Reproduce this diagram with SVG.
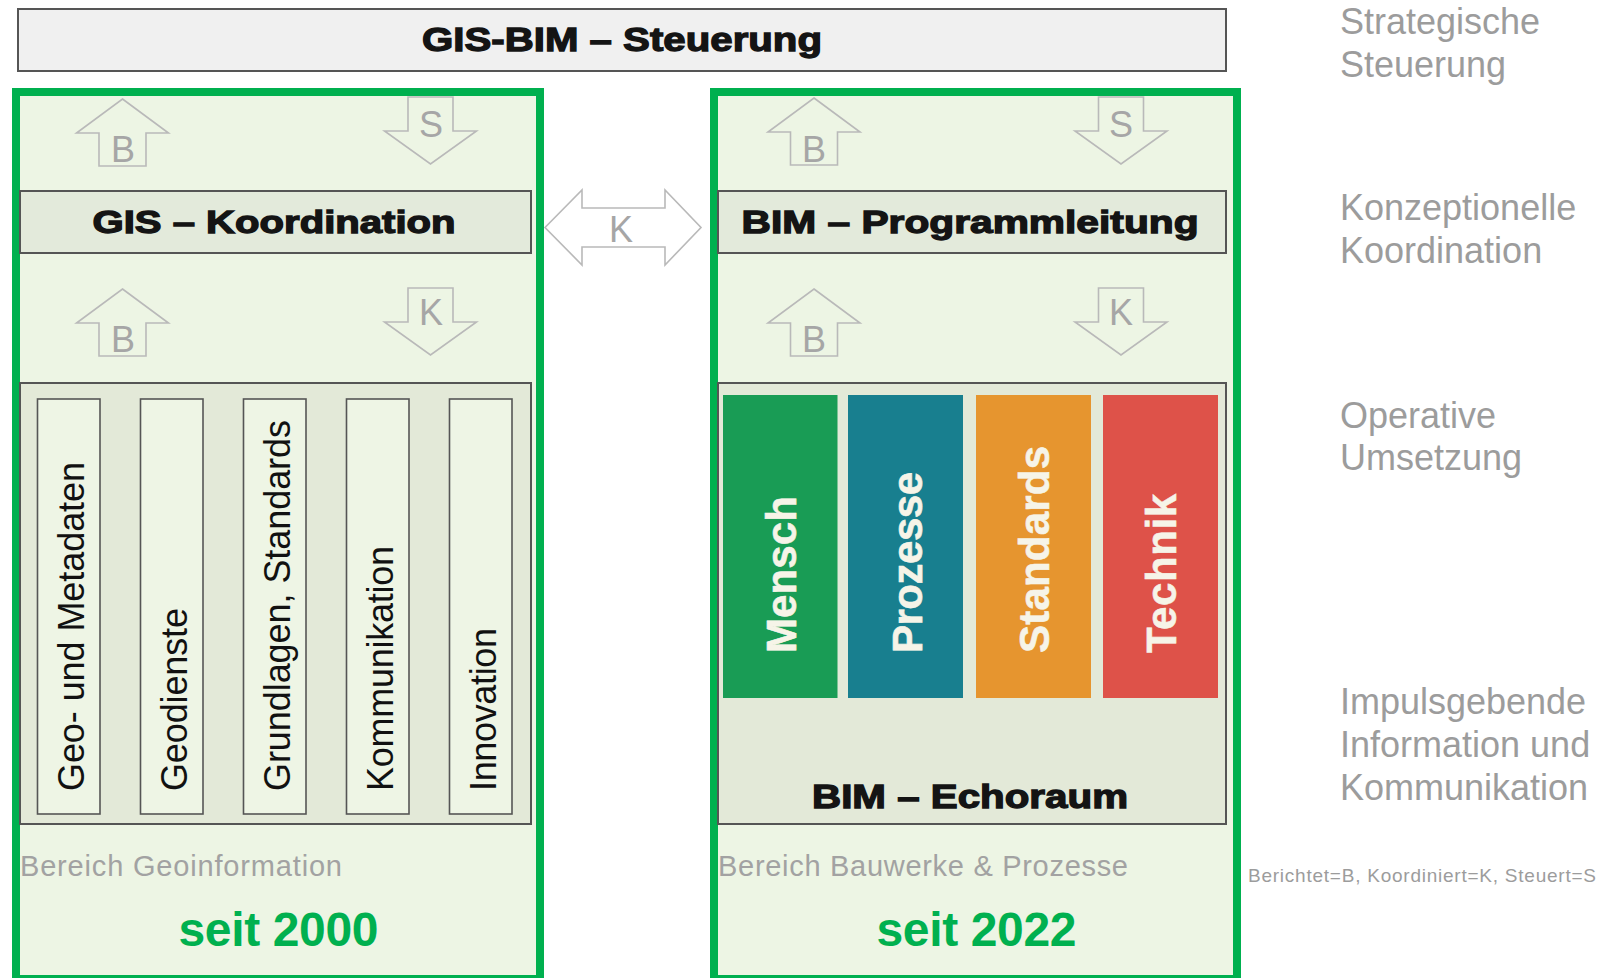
<svg xmlns="http://www.w3.org/2000/svg" xmlns:xlink="http://www.w3.org/1999/xlink" width="1601" height="978" viewBox="0 0 1601 978">
<style>
.heavy{font-family:"Liberation Sans",Arial,sans-serif;font-weight:bold;fill:#141414;stroke:#141414;stroke-width:1.3;text-anchor:middle}
.bar{fill:#e3eadb;stroke:#555;stroke-width:2}
.area{fill:#edf5e4;stroke:#00b04f;stroke-width:8}
.inner{fill:#e3e9d8;stroke:#555;stroke-width:2}
.col{fill:#eef5e5;stroke:#555;stroke-width:1.6}
.coltxt{font-family:"Liberation Sans",Arial,sans-serif;font-size:36px;fill:#111}
.ctxt{font-family:"Liberation Sans",Arial,sans-serif;font-size:42px;font-weight:bold;fill:#f6f4e8;stroke:#f6f4e8;stroke-width:0.6}
.gray{font-family:"Liberation Sans",Arial,sans-serif;fill:#9c9c9c}
.bereich{font-family:"Liberation Sans",Arial,sans-serif;font-size:29px;fill:#a2a2a2}
.seit{font-family:"Liberation Sans",Arial,sans-serif;font-size:48px;font-weight:bold;fill:#00b04f;text-anchor:middle}
.arr{fill:none;stroke:#b9b9b9;stroke-width:1.6;stroke-linejoin:miter}
.let{font-family:"Liberation Sans",Arial,sans-serif;font-size:36px;fill:#a6a6a6;text-anchor:middle}
</style>
<defs>
<path id="up" d="M0,0 L46,34 L23.5,34 L23.5,67 L-23.5,67 L-23.5,34 L-46,34 Z"/>
<path id="down" d="M-22.5,0 L22.5,0 L22.5,34 L46,34 L0,67 L-46,34 L-22.5,34 Z"/>
</defs>
<rect width="1601" height="978" fill="#ffffff"/>

<g id="steuerung">
<rect x="18" y="9" width="1208" height="62" fill="#f0f0f0" stroke="#555" stroke-width="2"/>
<text class="heavy" x="622" y="51" font-size="34" textLength="400" lengthAdjust="spacingAndGlyphs">GIS-BIM – Steuerung</text>
</g>

<g id="bereich-geo">
<rect class="area" x="16" y="92" width="524" height="887"/>
</g>
<g id="bereich-bau">
<rect class="area" x="714" y="92" width="523" height="887"/>
</g>

<g id="gis-koordination">
<rect class="bar" x="20" y="191" width="511" height="62"/>
<text class="heavy" x="274" y="233" font-size="32" textLength="363" lengthAdjust="spacingAndGlyphs">GIS – Koordination</text>
</g>

<g id="bim-programmleitung">
<rect class="bar" x="718" y="191" width="508" height="62"/>
<text class="heavy" x="970" y="233" font-size="32" textLength="457" lengthAdjust="spacingAndGlyphs">BIM – Programmleitung</text>
</g>

<g id="gis-themen">
<rect class="inner" x="20" y="383" width="511" height="441"/>
<rect class="col" x="37.5" y="399" width="62.5" height="415"/>
<text class="coltxt" transform="translate(83.5,791) rotate(-90)" textLength="329">Geo- und Metadaten</text>
<rect class="col" x="140.5" y="399" width="62.5" height="415"/>
<text class="coltxt" transform="translate(186.5,791) rotate(-90)" textLength="183">Geodienste</text>
<rect class="col" x="243.5" y="399" width="62.5" height="415"/>
<text class="coltxt" transform="translate(289.5,791) rotate(-90)" textLength="371">Grundlagen, Standards</text>
<rect class="col" x="346.5" y="399" width="62.5" height="415"/>
<text class="coltxt" transform="translate(392.5,791) rotate(-90)" textLength="245">Kommunikation</text>
<rect class="col" x="449.5" y="399" width="62.5" height="415"/>
<text class="coltxt" transform="translate(495.5,791) rotate(-90)" textLength="163">Innovation</text>
</g>

<g id="bim-echoraum">
<rect class="inner" x="718" y="383" width="508" height="441"/>
<rect x="723" y="395" width="114.5" height="303" fill="#199c55"/>
<text class="ctxt" transform="translate(796,653) rotate(-90)" textLength="157">Mensch</text>
<rect x="848" y="395" width="115" height="303" fill="#187f8f"/>
<text class="ctxt" transform="translate(922,653) rotate(-90)" textLength="181">Prozesse</text>
<rect x="976" y="395" width="115" height="303" fill="#e6952f"/>
<text class="ctxt" transform="translate(1049,653) rotate(-90)" textLength="207">Standards</text>
<rect x="1103" y="395" width="115" height="303" fill="#de5249"/>
<text class="ctxt" transform="translate(1176,653) rotate(-90)" textLength="159">Technik</text>
<text class="heavy" x="970" y="808" font-size="33" textLength="316" lengthAdjust="spacingAndGlyphs">BIM – Echoraum</text>
</g>

<g id="labels-geo">
<text class="bereich" x="20" y="876" textLength="322">Bereich Geoinformation</text>
<text class="seit" x="278.5" y="946" textLength="200">seit 2000</text>
</g>
<g id="labels-bau">
<text class="bereich" x="718" y="876" textLength="410">Bereich Bauwerke &amp; Prozesse</text>
<text class="seit" x="976.5" y="946" textLength="200">seit 2022</text>
</g>

<g id="connectors">
<use xlink:href="#up" class="arr" x="122.5" y="99"/>
<text class="let" x="123" y="162">B</text>
<use xlink:href="#down" class="arr" x="430.5" y="97"/>
<text class="let" x="431" y="137">S</text>
<use xlink:href="#up" class="arr" x="122.5" y="289"/>
<text class="let" x="123" y="352">B</text>
<use xlink:href="#down" class="arr" x="430.5" y="288"/>
<text class="let" x="431" y="325">K</text>

<use xlink:href="#up" class="arr" x="814" y="98"/>
<text class="let" x="814" y="162">B</text>
<use xlink:href="#down" class="arr" x="1121" y="97"/>
<text class="let" x="1121" y="137">S</text>
<use xlink:href="#up" class="arr" x="814" y="289"/>
<text class="let" x="814" y="352">B</text>
<use xlink:href="#down" class="arr" x="1121" y="288"/>
<text class="let" x="1121" y="325">K</text>

<path class="arr" fill="#ffffff" d="M545,227.5 L582,190 L582,208 L665,208 L665,190 L701,227.5 L665,265 L665,247 L582,247 L582,265 Z"/>
<text class="let" x="621" y="242">K</text>
</g>

<g id="ebenen">
<text class="gray" font-size="36" x="1340" y="34">Strategische</text>
<text class="gray" font-size="36" x="1340" y="77">Steuerung</text>
<text class="gray" font-size="36" x="1340" y="220">Konzeptionelle</text>
<text class="gray" font-size="36" x="1340" y="263">Koordination</text>
<text class="gray" font-size="36" x="1340" y="428">Operative</text>
<text class="gray" font-size="36" x="1340" y="470">Umsetzung</text>
<text class="gray" font-size="36" x="1340" y="714" textLength="246">Impulsgebende</text>
<text class="gray" font-size="36" x="1340" y="757">Information und</text>
<text class="gray" font-size="36" x="1340" y="800">Kommunikation</text>
<text class="gray" font-size="19" x="1248" y="882" textLength="348">Berichtet=B, Koordiniert=K, Steuert=S</text>
</g>
</svg>
